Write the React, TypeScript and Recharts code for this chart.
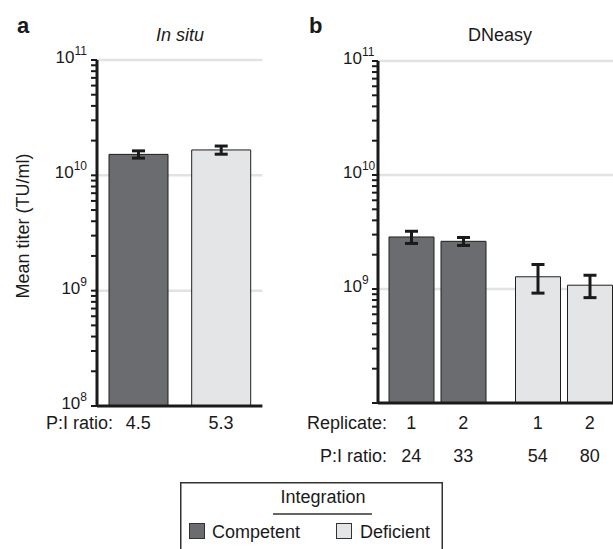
import React from "react";
import { Bar, BarChart, CartesianGrid, Cell, ErrorBar, XAxis, YAxis } from "recharts";

const groups = ["Competent", "Deficient"];
const groupColors = ["#6b6c70", "#e4e5e7"];

// panel a: in situ
const inSituTiter = [1.52e10, 1.66e10];
const inSituErr = [0.11e10, 0.135e10];
const inSituRatio = ["4.5", "5.3"];

// panel b: DNeasy, two replicates per group
const replicates = ["1", "2"];
const dneasyRep1 = [2.86e9, 1.28e9];
const dneasyRep1Err = [0.35e9, 0.36e9];
const dneasyRep2 = [2.62e9, 1.08e9];
const dneasyRep2Err = [0.21e9, 0.24e9];
const dneasyRep1Ratio = ["24", "54"];
const dneasyRep2Ratio = ["33", "80"];

const decades = [1e8, 1e9, 1e10];
const minorSteps = [1, 2, 3, 4, 5, 6, 7, 8, 9];
const yTicks = [...decades.flatMap((d) => minorSteps.map((m) => m * d)), 1e11];
const gridValues = [1e9, 1e10, 1e11];

const ink = "#1a1a1a";
const font = "'Liberation Sans', Arial, sans-serif";
const textSize = 18;

const inSituData = groups.map((g, i) => ({
  group: g,
  titer: inSituTiter[i],
  err: inSituErr[i],
}));

const dneasyData = groups.map((g, i) => ({
  group: g,
  rep1: dneasyRep1[i],
  rep1Err: dneasyRep1Err[i],
  rep2: dneasyRep2[i],
  rep2Err: dneasyRep2Err[i],
}));

function LogTick(props: any) {
  const { x, y, payload, labelDx, anchor, hideBottom } = props;
  const v = payload.value;
  const e = Math.round(Math.log10(v));
  const major = Math.abs(v / Math.pow(10, e) - 1) < 1e-6;
  const showLabel = major && !(hideBottom && e === 8);
  return (
    <g>
      <line x1={x - 6} x2={x} y1={y} y2={y} stroke={ink} strokeWidth={2} />
      {showLabel && (
        <text x={x + labelDx} y={y + 3} textAnchor={anchor} fontSize={17} fill={ink} fontFamily={font}>
          10
          <tspan dy={-8} fontSize={12}>
            {e}
          </tspan>
        </text>
      )}
    </g>
  );
}

function InSituTick(props: any) {
  const { x, y, payload } = props;
  return (
    <text x={x} y={y + 23} textAnchor="middle" fontSize={textSize} fill={ink} fontFamily={font}>
      {inSituRatio[payload.index]}
    </text>
  );
}

const repOffset = 26;

function DneasyTick(props: any) {
  const { x, y, payload } = props;
  const i = payload.index;
  return (
    <g fontSize={textSize} fill={ink} fontFamily={font} textAnchor="middle">
      <text x={x - repOffset} y={y + 26}>{replicates[0]}</text>
      <text x={x + repOffset} y={y + 26}>{replicates[1]}</text>
      <text x={x - repOffset} y={y + 59}>{dneasyRep1Ratio[i]}</text>
      <text x={x + repOffset} y={y + 59}>{dneasyRep2Ratio[i]}</text>
    </g>
  );
}

export default function App() {
  return (
    <div
      style={{
        position: "fixed",
        left: 0,
        top: 0,
        width: 613,
        height: 549,
        overflow: "hidden",
        background: "#fff",
        fontFamily: font,
      }}
    >
      <div style={{ position: "absolute", left: 0, top: 0 }}>
        <BarChart width={300} height={480} data={inSituData} margin={{ top: 60, right: 37.6, bottom: 0, left: 0 }}>
          <CartesianGrid vertical={false} horizontalValues={gridValues} stroke="#e2e2e2" strokeWidth={2.5} />
          <XAxis
            dataKey="group"
            height={74}
            tickSize={0}
            tickMargin={0}
            axisLine={{ stroke: ink, strokeWidth: 3 }}
            tick={<InSituTick />}
            interval={0}
          />
          <YAxis
            type="number"
            scale="log"
            domain={[1e8, 1e11]}
            allowDataOverflow
            ticks={yTicks}
            interval={0}
            width={97}
            tickSize={0}
            tickMargin={0}
            axisLine={{ stroke: ink, strokeWidth: 3 }}
            tick={(p: any) => <LogTick {...p} labelDx={-10} anchor="end" />}
          />
          <Bar dataKey="titer" barSize={59} stroke="#1e1e1e" strokeWidth={1} isAnimationActive={false}>
            {inSituData.map((d, i) => (
              <Cell key={d.group} fill={groupColors[i]} />
            ))}
            <ErrorBar dataKey="err" width={6.5} stroke={ink} strokeWidth={3} direction="y" />
          </Bar>
        </BarChart>
      </div>

      <div style={{ position: "absolute", left: 278, top: 0 }}>
        <BarChart
          width={349}
          height={480}
          data={dneasyData}
          barGap={7}
          margin={{ top: 61, right: 0, bottom: 0, left: 0 }}
        >
          <CartesianGrid vertical={false} horizontalValues={gridValues} stroke="#e2e2e2" strokeWidth={2.5} />
          <XAxis
            dataKey="group"
            height={77}
            tickSize={0}
            tickMargin={0}
            padding={{ left: -4, right: 0 }}
            axisLine={{ stroke: ink, strokeWidth: 3 }}
            tick={<DneasyTick />}
            interval={0}
          />
          <YAxis
            type="number"
            scale="log"
            domain={[1e8, 1e11]}
            allowDataOverflow
            ticks={yTicks}
            interval={0}
            width={100}
            tickSize={0}
            tickMargin={0}
            axisLine={{ stroke: ink, strokeWidth: 3 }}
            tick={(p: any) => <LogTick {...p} labelDx={-35} anchor="start" hideBottom />}
          />
          <Bar dataKey="rep1" barSize={45} stroke="#1e1e1e" strokeWidth={1} isAnimationActive={false}>
            {dneasyData.map((d, i) => (
              <Cell key={d.group} fill={groupColors[i]} />
            ))}
            <ErrorBar dataKey="rep1Err" width={6.5} stroke={ink} strokeWidth={3} direction="y" />
          </Bar>
          <Bar dataKey="rep2" barSize={45} stroke="#1e1e1e" strokeWidth={1} isAnimationActive={false}>
            {dneasyData.map((d, i) => (
              <Cell key={d.group} fill={groupColors[i]} />
            ))}
            <ErrorBar dataKey="rep2Err" width={6.5} stroke={ink} strokeWidth={3} direction="y" />
          </Bar>
        </BarChart>
      </div>

      <svg
        width={613}
        height={549}
        style={{ position: "absolute", left: 0, top: 0, pointerEvents: "none" }}
        fontFamily={font}
        fill={ink}
      >
        <text x={17} y={33} fontSize={22} fontWeight="bold">a</text>
        <text x={309} y={33} fontSize={22} fontWeight="bold">b</text>
        <text x={180} y={41} fontSize={textSize} fontStyle="italic" textAnchor="middle">In situ</text>
        <text x={500} y={41} fontSize={textSize} textAnchor="middle">DNeasy</text>
        <text x={29} y={226} fontSize={textSize} textAnchor="middle" transform="rotate(-90, 29, 226)">
          Mean titer (TU/ml)
        </text>
        <text x={113} y={429} fontSize={textSize} textAnchor="end">P:I ratio:</text>
        <text x={387} y={429} fontSize={textSize} textAnchor="end">Replicate:</text>
        <text x={387} y={462} fontSize={textSize} textAnchor="end">P:I ratio:</text>

        <rect x={180.75} y={482.75} width={261.5} height={90} fill="none" stroke="#333" strokeWidth={1.5} />
        <text x={323} y={503} fontSize={textSize} textAnchor="middle">Integration</text>
        <line x1={273} x2={372} y1={514} y2={514} stroke="#333" strokeWidth={1.5} />
        <rect x={189.5} y={523.5} width={15} height={15} fill={groupColors[0]} stroke="#333" strokeWidth={1} />
        <text x={212} y={538} fontSize={textSize}>{groups[0]}</text>
        <rect x={336.5} y={523.5} width={15} height={15} fill={groupColors[1]} stroke="#333" strokeWidth={1} />
        <text x={360} y={538} fontSize={textSize}>{groups[1]}</text>
      </svg>
    </div>
  );
}
